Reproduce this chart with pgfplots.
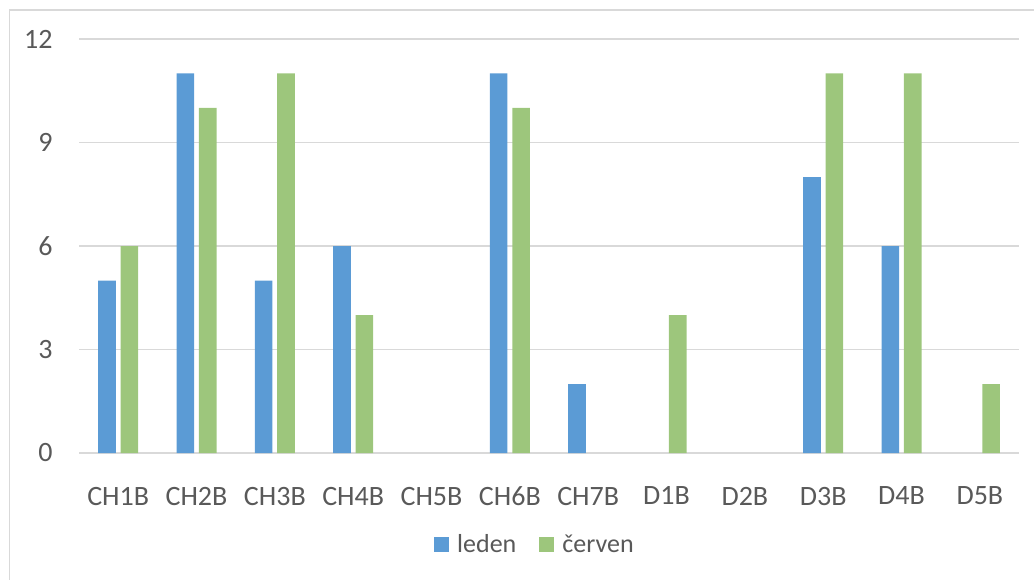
\documentclass[border=0pt]{standalone}
\usepackage{pgfplots}
\pgfplotsset{compat=1.18}
\usepackage{fontspec}
\setmainfont{Carlito}
\definecolor{cblue}{HTML}{5B9BD5}
\definecolor{cgreen}{HTML}{9DC67C}
\definecolor{tgray}{HTML}{595959}
\definecolor{lgray}{HTML}{D9D9D9}
\begin{document}
\begin{tikzpicture}[x=1bp,y=1bp]
\useasboundingbox (0,0) rectangle (517,289.5);
\draw[lgray, line width=0.75bp] (4.75,-10) -- (4.75,284.5) -- (530,284.5);
\begin{axis}[
  at={(39.5bp,63bp)}, anchor=south west,
  scale only axis, width=470bp, height=207bp,
  xmin=-0.5, xmax=11.5, ymin=0, ymax=12,
  ytick={0,3,6,9,12},
  xtick={0,...,11},
  xticklabels={CH1B,CH2B,CH3B,CH4B,CH5B,CH6B,CH7B,D1B,D2B,D3B,D4B,D5B},
  ybar=2.4bp, bar width=8.8bp,
  axis line style={draw=none},
  major tick style={draw=none},
  ymajorgrids, grid style={lgray, line width=0.75bp},
  font=\fontsize{14bp}{16bp}\selectfont,
  ticklabel style={text=tgray, font=\fontsize{14bp}{16bp}\selectfont},
  /pgf/number format/assume math mode=true,
  yticklabel style={anchor=east, inner sep=0pt, xshift=-13bp},
  xticklabel style={anchor=north, inner sep=0pt, yshift=-12.5bp},
  legend columns=2,
  legend style={at={(0.484,-0.222)}, anchor=center, draw=none, fill=none,
    font=\fontsize{13bp}{15bp}\selectfont, text=tgray,
    nodes={inner sep=0pt, anchor=west},
    /tikz/every odd column/.append style={column sep=4bp},
    /tikz/every even column/.append style={column sep=11.5bp}},
  legend image code/.code={\fill[#1] (0bp,-3.75bp) rectangle (7.5bp,3.75bp);},
]
\addplot[fill=cblue, draw=none] coordinates {(0,5) (1,11) (2,5) (3,6) (5,11) (6,2) (9,8) (10,6)};
\addplot[fill=cgreen, draw=none] coordinates {(0,6) (1,10) (2,11) (3,4) (5,10) (7,4) (9,11) (10,11) (11,2)};
\legend{leden, červen}
\end{axis}
\end{tikzpicture}
\end{document}
